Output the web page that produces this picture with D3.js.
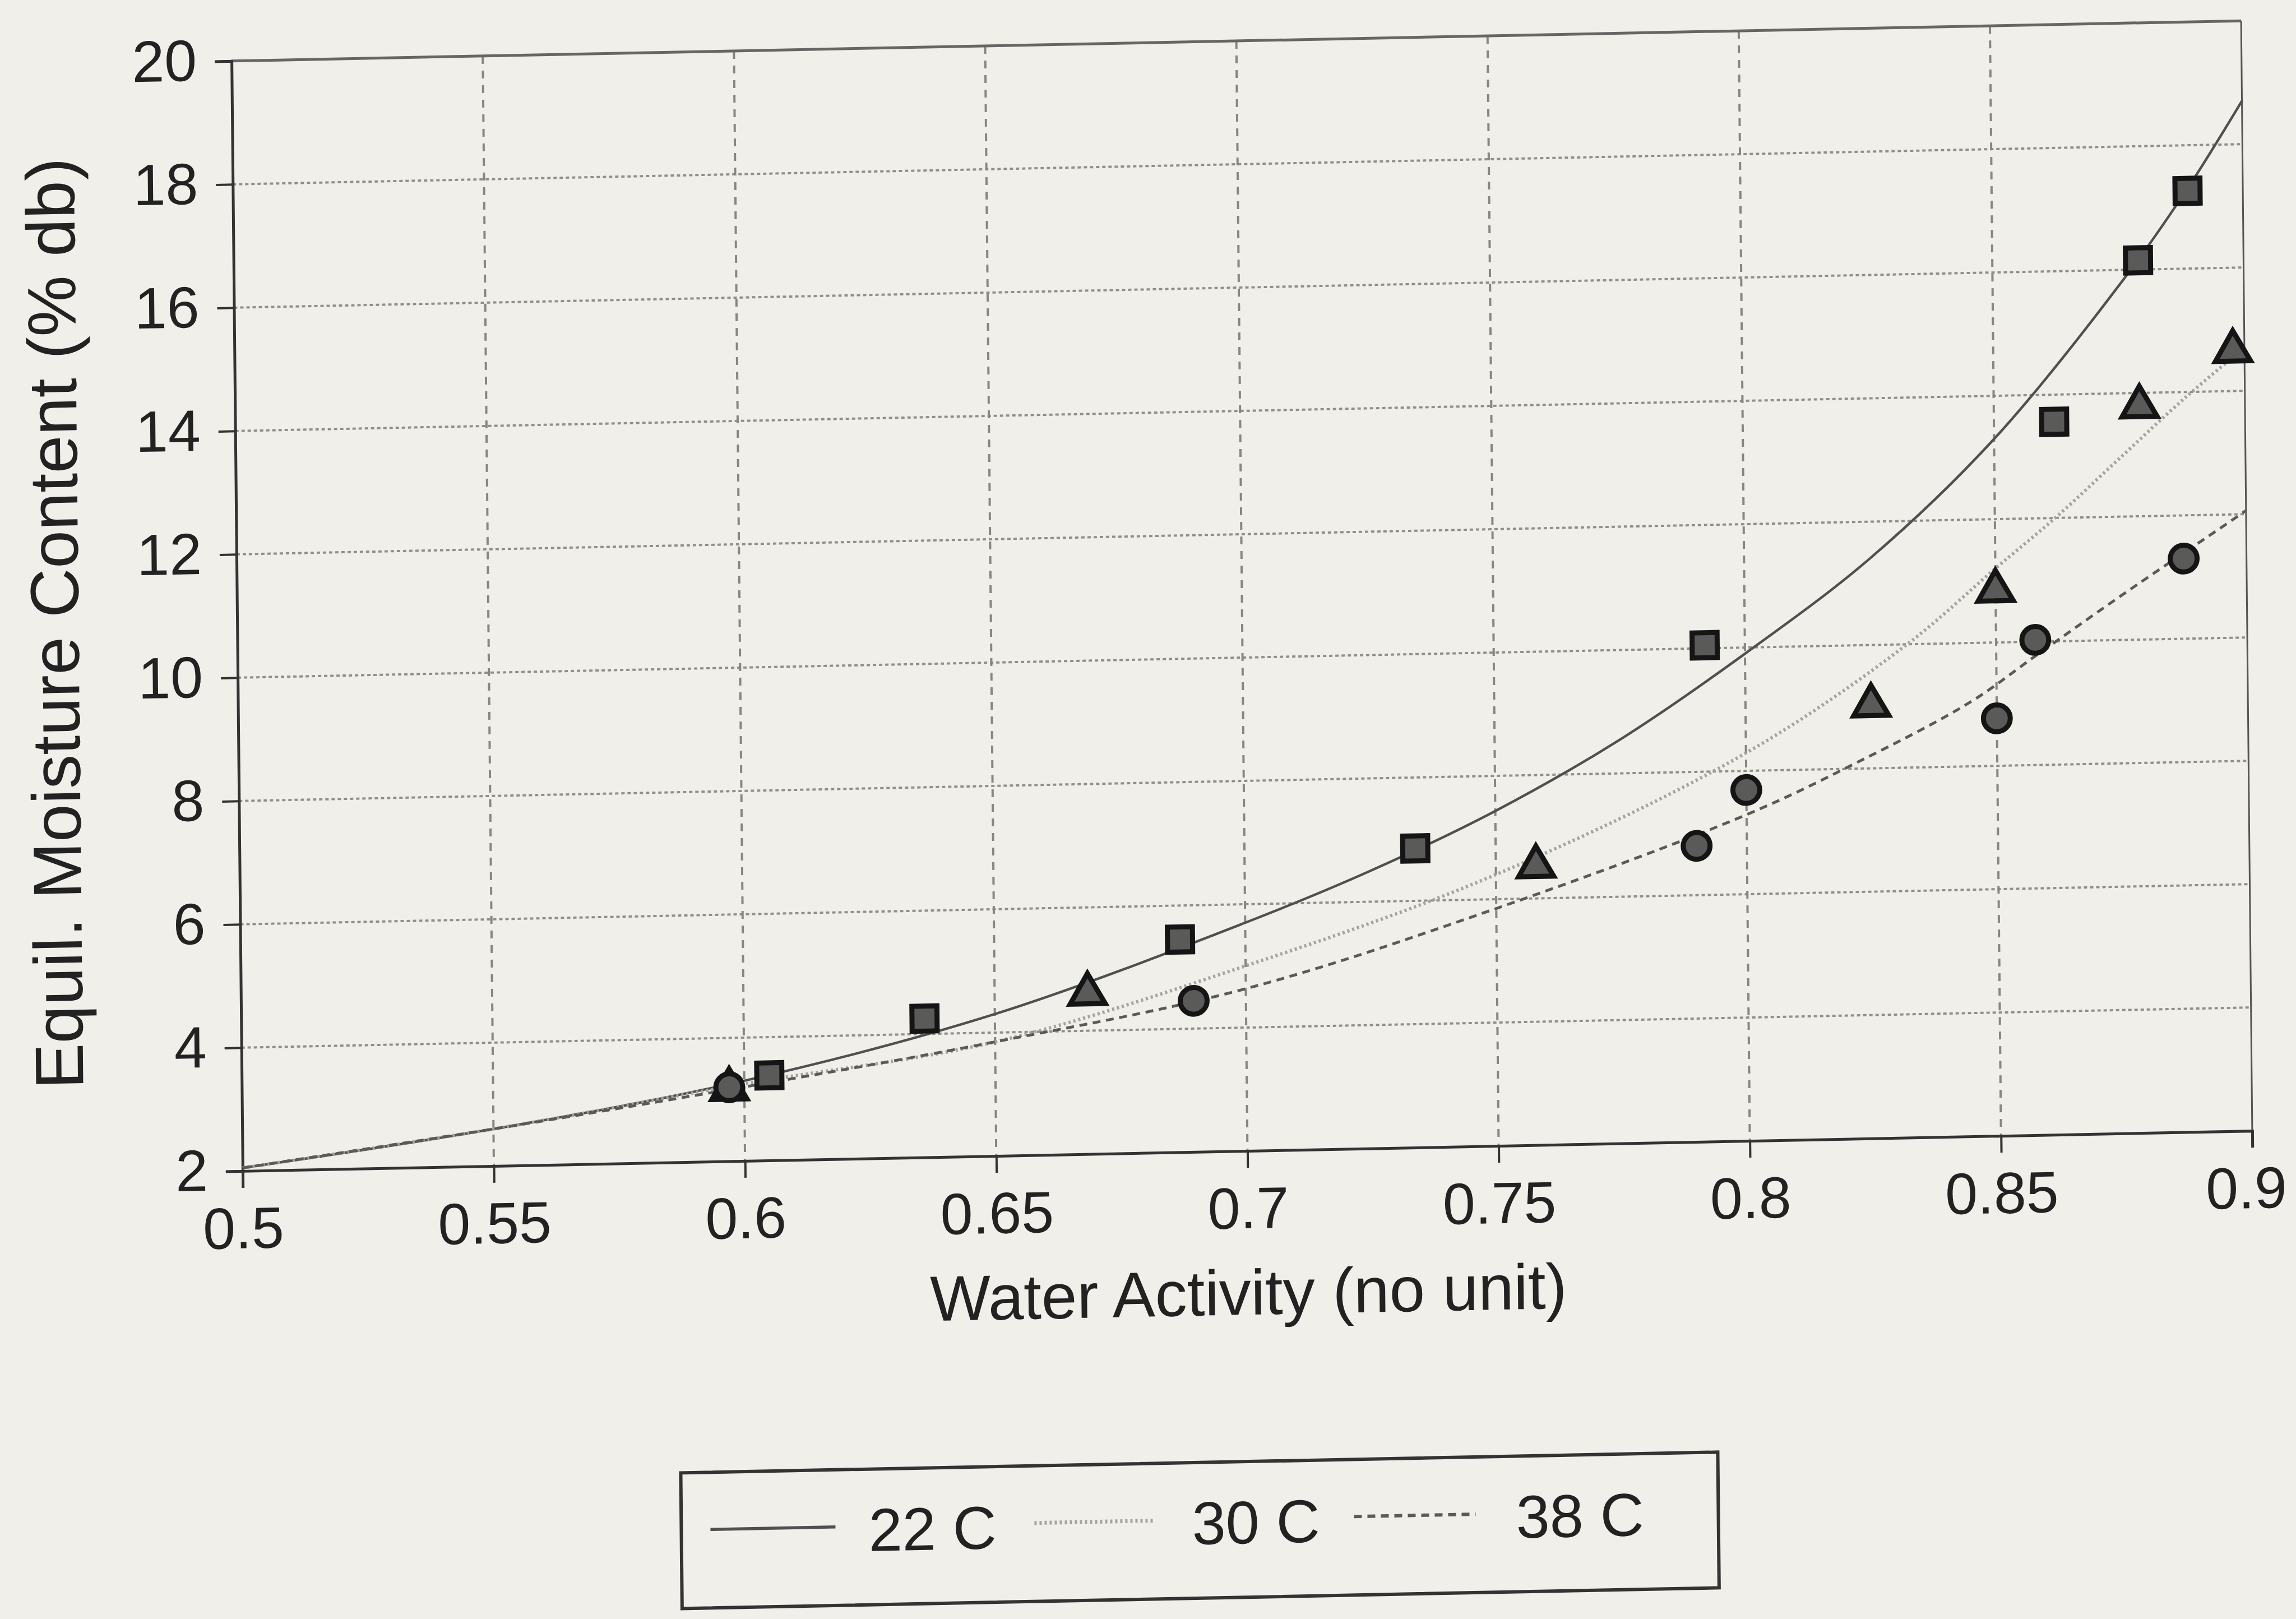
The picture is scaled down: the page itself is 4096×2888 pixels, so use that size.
<!DOCTYPE html>
<html><head><meta charset="utf-8">
<script src="https://cdn.jsdelivr.net/npm/d3@7"></script>
<style>html,body{margin:0;padding:0;background:#f0efea;} svg{display:block;}</style>
</head><body>
<svg id="chart" width="4096" height="2888"></svg>
<script>
// ---- data ----
const xTickValues = [0.5, 0.55, 0.6, 0.65, 0.7, 0.75, 0.8, 0.85, 0.9];
const xTickLabels = ["0.5", "0.55", "0.6", "0.65", "0.7", "0.75", "0.8", "0.85", "0.9"];
const yTickValues = [2, 4, 6, 8, 10, 12, 14, 16, 18, 20];
const yTickLabels = ["2", "4", "6", "8", "10", "12", "14", "16", "18", "20"];
const seriesNames = ["22 C", "30 C", "38 C"];

// measured points
const aw22 = [0.605, 0.636, 0.687, 0.734, 0.792, 0.862, 0.879, 0.889];
const emc22 = [3.38, 4.25, 5.45, 6.85, 10.05, 13.56, 16.15, 17.26];
const aw30 = [0.597, 0.6685, 0.758, 0.825, 0.85, 0.879, 0.8977];
const emc30 = [3.17, 4.6, 6.52, 9.02, 10.84, 13.78, 14.65];
const aw38 = [0.597, 0.6896, 0.790, 0.800, 0.850, 0.8578, 0.8875];
const emc38 = [3.2, 4.45, 6.8, 7.69, 8.77, 10.03, 11.3];

// fitted curves, traced
const fitAw22 = [0.5, 0.55, 0.6, 0.65, 0.7, 0.725, 0.75, 0.775, 0.8, 0.825, 0.85, 0.8766, 0.889, 0.9];
const fitEmc22 = [2.05, 2.6, 3.3, 4.3, 5.7, 6.5, 7.43, 8.55, 9.9, 11.4, 13.3, 15.9, 17.3, 18.7];
const fitAw30 = [0.5, 0.55, 0.6, 0.65, 0.7, 0.75, 0.8, 0.8323, 0.85, 0.862, 0.875, 0.888, 0.9];
const fitEmc30 = [2.05, 2.6, 3.25, 3.85, 5.0, 6.4, 8.29, 10.0, 11.2, 12.0, 12.95, 13.9, 14.7];
const fitAw38 = [0.5, 0.55, 0.6, 0.65, 0.7, 0.75, 0.8, 0.8226, 0.8447, 0.858, 0.875, 0.898, 0.9];
const fitEmc38 = [2.05, 2.6, 3.2, 3.85, 4.63, 5.85, 7.29, 8.12, 9.04, 9.78, 10.72, 11.95, 12.06];

// ---- layout ----
const L = 423, R = 4008, T = 81, B = 2061;
const svg = d3.select("#chart");
svg.append("rect").attr("width", 4096).attr("height", 2888).attr("fill", "#f0efea");
// slight tilt of the photographed page
const g = svg.append("g").attr("transform", "matrix(1,-0.02,0.01,1,-10.71,36.3)");
const x = d3.scaleLinear().domain([0.5, 0.9]).range([L, R]);
const y = d3.scaleLinear().domain([2, 20]).range([B, T]);
const FONT = "'Liberation Sans', Arial, Helvetica, sans-serif";

// grid
g.append("g").selectAll("line").data(yTickValues.slice(1, -1)).join("line")
  .attr("x1", L).attr("x2", R).attr("y1", d => y(d)).attr("y2", d => y(d))
  .attr("stroke", "#8f8f8b").attr("stroke-width", 4).attr("stroke-dasharray", "6 5");
g.append("g").selectAll("line").data(xTickValues.slice(1, -1)).join("line")
  .attr("x1", d => x(d)).attr("x2", d => x(d)).attr("y1", T).attr("y2", B)
  .attr("stroke", "#868682").attr("stroke-width", 4).attr("stroke-dasharray", "14 12");

// frame top/right
g.append("line").attr("x1", L).attr("x2", R).attr("y1", T).attr("y2", T)
  .attr("stroke", "#666664").attr("stroke-width", 5);
g.append("line").attr("x1", R).attr("x2", R).attr("y1", T).attr("y2", B)
  .attr("stroke", "#555").attr("stroke-width", 3);

// axes
const yAxis = d3.axisLeft(y).tickValues(yTickValues).tickFormat((d, i) => yTickLabels[i])
  .tickSize(30).tickPadding(32);
const xAxis = d3.axisBottom(x).tickValues(xTickValues).tickFormat((d, i) => xTickLabels[i])
  .tickSize(30).tickPadding(30);
const ya = g.append("g").attr("transform", `translate(${L},0)`).call(yAxis);
const xa = g.append("g").attr("transform", `translate(0,${B})`).call(xAxis);
[ya, xa].forEach(a => {
  a.select(".domain").attr("stroke", "#333").attr("stroke-width", 5);
  a.selectAll(".tick line").attr("stroke", "#333").attr("stroke-width", 4);
  a.selectAll(".tick text").attr("fill", "#222").attr("font-family", FONT).attr("font-size", 104);
});
xa.selectAll(".tick text").attr("dy", "0.75em");
xa.selectAll(".tick text").filter((d, i) => i === xTickValues.length - 1).attr("dx", -12);

// axis titles
g.append("text").attr("x", 2215).attr("y", B + 292).attr("text-anchor", "middle")
  .attr("font-family", FONT).attr("font-size", 114).attr("fill", "#222")
  .text("Water Activity (no unit)");
g.append("text").attr("transform", "translate(140,1078) rotate(-90)").attr("text-anchor", "middle")
  .attr("font-family", FONT).attr("font-size", 122).attr("fill", "#222")
  .text("Equil.  Moisture Content (% db)");

// curves
const lineGen = d3.line().x(d => x(d[0])).y(d => y(d[1])).curve(d3.curveCatmullRom.alpha(0.5));
const styles = [
  {stroke: "#505050", width: 4.5, dash: null},
  {stroke: "#a4a4a0", width: 6, dash: "4 5"},
  {stroke: "#5a5a58", width: 5, dash: "14 10"}
];
const fits = [
  d3.zip(fitAw22, fitEmc22),
  d3.zip(fitAw30, fitEmc30),
  d3.zip(fitAw38, fitEmc38)
];
fits.forEach((f, i) => {
  g.append("path").datum(f).attr("d", lineGen).attr("fill", "none")
    .attr("stroke", styles[i].stroke).attr("stroke-width", styles[i].width)
    .attr("stroke-dasharray", styles[i].dash);
});

// markers
const markerSets = [
  {pts: d3.zip(aw22, emc22), type: d3.symbolSquare, size: 2000},
  {pts: d3.zip(aw30, emc30), type: d3.symbolTriangle, size: 1700},
  {pts: d3.zip(aw38, emc38), type: d3.symbolCircle, size: 1800}
];
markerSets.forEach(m => {
  g.append("g").selectAll("path").data(m.pts).join("path")
    .attr("transform", d => `translate(${x(d[0])},${y(d[1])})`)
    .attr("d", d3.symbol().type(m.type).size(m.size))
    .attr("fill", "#5a5a58").attr("stroke", "#151515").attr("stroke-width", 9);
});

// legend
const LX = 1199, LY = 2615, LW = 1850, LH = 242;
const lg = g.append("g");
lg.append("rect").attr("x", LX).attr("y", LY).attr("width", LW).attr("height", LH)
  .attr("fill", "#f0efea").attr("stroke", "#333").attr("stroke-width", 6);
const legItems = [
  {s0: 52, s1: 275, t: 334},
  {s0: 630, s1: 846, t: 911},
  {s0: 1200, s1: 1417, t: 1489}
];
legItems.forEach((it, i) => {
  lg.append("line").attr("x1", LX + it.s0).attr("x2", LX + it.s1)
    .attr("y1", LY + 102).attr("y2", LY + 102)
    .attr("stroke", styles[i].stroke).attr("stroke-width", styles[i].width + 1)
    .attr("stroke-dasharray", styles[i].dash);
  lg.append("text").attr("x", LX + it.t).attr("y", LY + 146)
    .attr("font-family", FONT).attr("font-size", 108).attr("fill", "#222")
    .text(seriesNames[i]);
});
</script>
</body></html>
